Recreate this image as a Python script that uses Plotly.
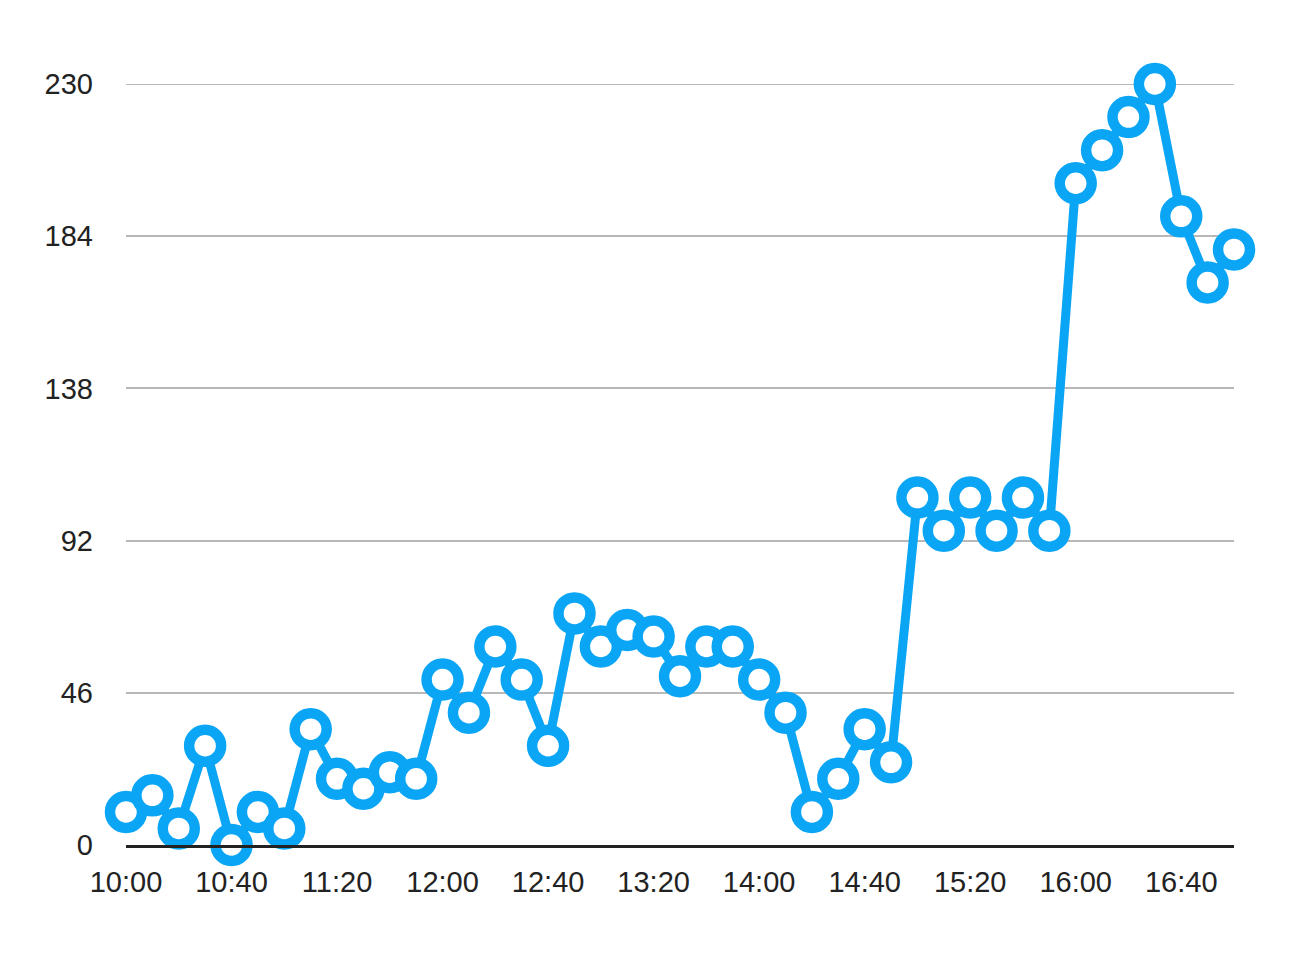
import plotly.graph_objects as go

times = ["10:00", "10:10", "10:20", "10:30", "10:40", "10:50", "11:00", "11:10", "11:20", "11:30",
         "11:40", "11:50", "12:00", "12:10", "12:20", "12:30", "12:40", "12:50", "13:00", "13:10",
         "13:20", "13:30", "13:40", "13:50", "14:00", "14:10", "14:20", "14:30", "14:40", "14:50",
         "15:00", "15:10", "15:20", "15:30", "15:40", "15:50", "16:00", "16:10", "16:20", "16:30",
         "16:40", "16:50", "17:00"]
values = [10, 15, 5, 30, 0, 10, 5, 35, 20, 17,
          22, 20, 50, 40, 60, 50, 30, 70, 60, 65,
          63, 51, 60, 60, 50, 40, 10, 20, 35, 25,
          105, 95, 105, 95, 105, 95, 200, 210, 220, 230,
          190, 170, 180]
y_ticks = [0, 46, 92, 138, 184, 230]

day = "2024-01-01 "
x = [day + t for t in times]

blue = "#0aa5f5"
grid = "#b8b8b8"

fig = go.Figure()
fig.add_trace(go.Scatter(
    x=x, y=values, mode="lines+markers",
    line=dict(color=blue, width=9),
    marker=dict(size=32, color="white", line=dict(color=blue, width=10.5)),
    cliponaxis=False,
))

# top gridline (plotly omits gridlines lying on the plot edge)
fig.add_shape(type="line", xref="paper", x0=0, x1=1, yref="y", y0=y_ticks[-1], y1=y_ticks[-1],
              line=dict(color=grid, width=2), layer="below")

fig.update_layout(
    width=1302, height=956,
    margin=dict(l=118, r=76, t=76, b=119),
    paper_bgcolor="white", plot_bgcolor="white",
    showlegend=False,
    font=dict(family="Liberation Sans, Arial, sans-serif", size=29, color="#222222"),
)
fig.update_xaxes(
    type="date",
    range=[day + "10:00", day + "17:00"],
    tick0=day + "10:00", dtick=40 * 60 * 1000,
    tickformat="%H:%M",
    showgrid=False, zeroline=False,
    showline=True, linecolor="#222222", linewidth=3,
    ticks="", ticklabelstandoff=9,
)
fig.update_yaxes(
    range=[0, 230],
    tickvals=y_ticks, ticktext=[str(v) for v in y_ticks],
    showgrid=True, gridcolor=grid, gridwidth=2,
    zeroline=False, showline=False,
    ticks="", ticklabelstandoff=32,
)

fig.write_html("out.html")
